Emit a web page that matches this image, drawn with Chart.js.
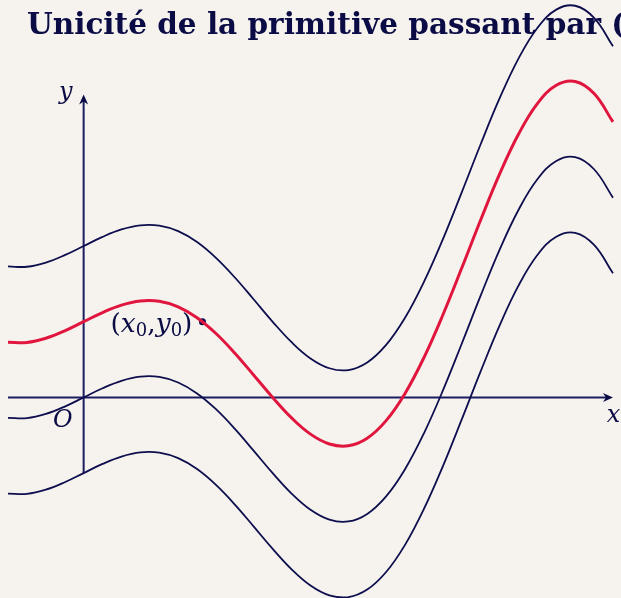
<!DOCTYPE html>
<html>
<head>
<meta charset="utf-8">
<script src="https://cdn.jsdelivr.net/npm/chart.js@4/dist/chart.umd.min.js"></script>
<style>
  html, body { margin: 0; padding: 0; background: #f6f3ee; }
  #wrap { position: relative; width: 621px; height: 598px; }
</style>
</head>
<body>
<div id="wrap"><canvas id="c" width="621" height="598"></canvas></div>
<script>
// ---- data ----
const titleText = "Unicité de la primitive passant par (x\u2080,y\u2080)";
const xs = [-1,-0.75,-0.5,-0.25,0,0.25,0.5,0.75,1,1.25,1.5,1.75,2,2.25,2.5,2.75,3,3.25,3.5,3.75,4,4.25,4.5,4.75,5,5.25,5.5,5.75,6,6.25,6.5,6.75,7];
const curveTop = [1.730,1.726,1.781,1.879,2,2.121,2.219,2.274,2.270,2.197,2.053,1.844,1.584,1.293,0.999,0.729,0.515,0.385,0.361,0.461,0.693,1.052,1.526,2.089,2.709,3.344,3.949,4.476,4.881,5.123,5.174,5.014,4.639];
const curveRed = [0.730,0.726,0.781,0.879,1,1.121,1.219,1.274,1.270,1.197,1.053,0.844,0.584,0.293,-0.001,-0.271,-0.485,-0.615,-0.639,-0.539,-0.307,0.052,0.526,1.089,1.709,2.344,2.949,3.476,3.881,4.123,4.174,4.014,3.639];
const curveOrigin = [-0.270,-0.274,-0.219,-0.121,0,0.121,0.219,0.274,0.270,0.197,0.053,-0.156,-0.416,-0.707,-1.001,-1.271,-1.485,-1.615,-1.639,-1.539,-1.307,-0.948,-0.474,0.089,0.709,1.344,1.949,2.476,2.881,3.123,3.174,3.014,2.639];
const curveBottom = [-1.270,-1.274,-1.219,-1.121,-1,-0.879,-0.781,-0.726,-0.730,-0.803,-0.947,-1.156,-1.416,-1.707,-2.001,-2.271,-2.485,-2.615,-2.639,-2.539,-2.307,-1.948,-1.474,-0.911,-0.291,0.344,0.949,1.476,1.881,2.123,2.174,2.014,1.639];
const pointX0 = [1.571];
const pointY0 = [1];
const xAxisRange = [-1, 7];
const yAxisRange = [-1, 4];

const NAVY = '#0e0e4e';
const AXIS = '#1c1c60';
const RED = '#e0163e';

function pts(ys) { return xs.map((x, i) => ({ x: x, y: ys[i] })); }

function arrowHead(ctx, tx, ty, dx, dy) {
  const L = 10, W = 4.5, N = 3;
  const px = -dy, py = dx;
  ctx.beginPath();
  ctx.moveTo(tx, ty);
  ctx.lineTo(tx - dx * L + px * W, ty - dy * L + py * W);
  ctx.lineTo(tx - dx * (L - N), ty - dy * (L - N));
  ctx.lineTo(tx - dx * L - px * W, ty - dy * L - py * W);
  ctx.closePath();
  ctx.fill();
}

const decor = {
  id: 'decor',
  beforeDatasetsDraw(chart) {
    const ctx = chart.ctx;
    const xS = chart.scales.x, yS = chart.scales.y;
    ctx.save();
    // title
    ctx.fillStyle = '#0b0b45';
    ctx.font = 'bold 29.5px "DejaVu Serif"';
    ctx.textAlign = 'left';
    ctx.textBaseline = 'alphabetic';
    ctx.fillText(titleText, 27, 34);
    // axes
    ctx.strokeStyle = AXIS;
    ctx.fillStyle = '#0b0b45';
    ctx.lineWidth = 2;
    const x0 = xS.getPixelForValue(0), y0 = yS.getPixelForValue(0);
    const xa = xS.getPixelForValue(xAxisRange[0]), xb = xS.getPixelForValue(xAxisRange[1]);
    const ya = yS.getPixelForValue(yAxisRange[0]), yb = yS.getPixelForValue(yAxisRange[1]);
    ctx.beginPath(); ctx.moveTo(xa, y0); ctx.lineTo(xb - 4, y0); ctx.stroke();
    ctx.beginPath(); ctx.moveTo(x0, ya); ctx.lineTo(x0, yb + 4); ctx.stroke();
    arrowHead(ctx, xb, y0, 1, 0);
    arrowHead(ctx, x0, yb, 0, -1);
    ctx.restore();
  },
  afterDatasetsDraw(chart) {
    const ctx = chart.ctx;
    const xS = chart.scales.x, yS = chart.scales.y;
    const x0 = xS.getPixelForValue(0), y0 = yS.getPixelForValue(0);
    const xb = xS.getPixelForValue(xAxisRange[1]);
    const yb = yS.getPixelForValue(yAxisRange[1]);
    ctx.save();
    ctx.fillStyle = '#0b0b45';
    ctx.textBaseline = 'alphabetic';
    ctx.font = 'italic 24px "DejaVu Serif"';
    ctx.textAlign = 'right';
    ctx.fillText('y', x0 - 11, yb + 4);
    ctx.fillText('O', x0 - 11, y0 + 30);
    ctx.textAlign = 'center';
    ctx.fillText('x', xb + 0.5, y0 + 25);
    // point label (x0,y0)
    const px = xS.getPixelForValue(pointX0[0]), py = yS.getPixelForValue(pointY0[0]);
    const parts = [
      ['(', '26.5px "DejaVu Serif"', 0],
      ['x', 'italic 26.5px "DejaVu Serif"', 0],
      ['0', '18px "DejaVu Serif"', 4],
      [',', '26.5px "DejaVu Serif"', 0],
      ['y', 'italic 26.5px "DejaVu Serif"', 0],
      ['0', '18px "DejaVu Serif"', 4],
      [')', '26.5px "DejaVu Serif"', 0]
    ];
    let total = 0;
    parts.forEach(p => { ctx.font = p[1]; total += ctx.measureText(p[0]).width; });
    let cx = px - 10 - total;
    const base = py + 10;
    ctx.textAlign = 'left';
    parts.forEach(p => { ctx.font = p[1]; ctx.fillText(p[0], cx, base + p[2]); cx += ctx.measureText(p[0]).width; });
    ctx.restore();
  }
};

new Chart(document.getElementById('c'), {
  type: 'line',
  data: {
    datasets: [
      { label: 'C = 2', data: pts(curveTop), borderColor: NAVY, borderWidth: 1.8, pointRadius: 0, tension: 0.4, fill: false },
      { label: 'C = 0', data: pts(curveOrigin), borderColor: NAVY, borderWidth: 1.8, pointRadius: 0, tension: 0.4, fill: false },
      { label: 'C = -1', data: pts(curveBottom), borderColor: NAVY, borderWidth: 1.8, pointRadius: 0, tension: 0.4, fill: false },
      { label: 'C = 1', data: pts(curveRed), borderColor: RED, borderWidth: 3, pointRadius: 0, tension: 0.4, fill: false },
      { label: '(x0,y0)', type: 'scatter', data: pointX0.map((x, i) => ({ x: x, y: pointY0[i] })), pointRadius: 3.5, pointBackgroundColor: NAVY, pointBorderColor: NAVY, pointBorderWidth: 0, showLine: false }
    ]
  },
  options: {
    responsive: false,
    animation: false,
    layout: { padding: 0, autoPadding: false },
    plugins: { legend: { display: false }, title: { display: false }, tooltip: { enabled: false } },
    scales: {
      x: { type: 'linear', min: -1.106, max: 7.106, display: false },
      y: { type: 'linear', min: -2.65, max: 5.25, display: false }
    }
  },
  plugins: [decor]
});
</script>
</body>
</html>
